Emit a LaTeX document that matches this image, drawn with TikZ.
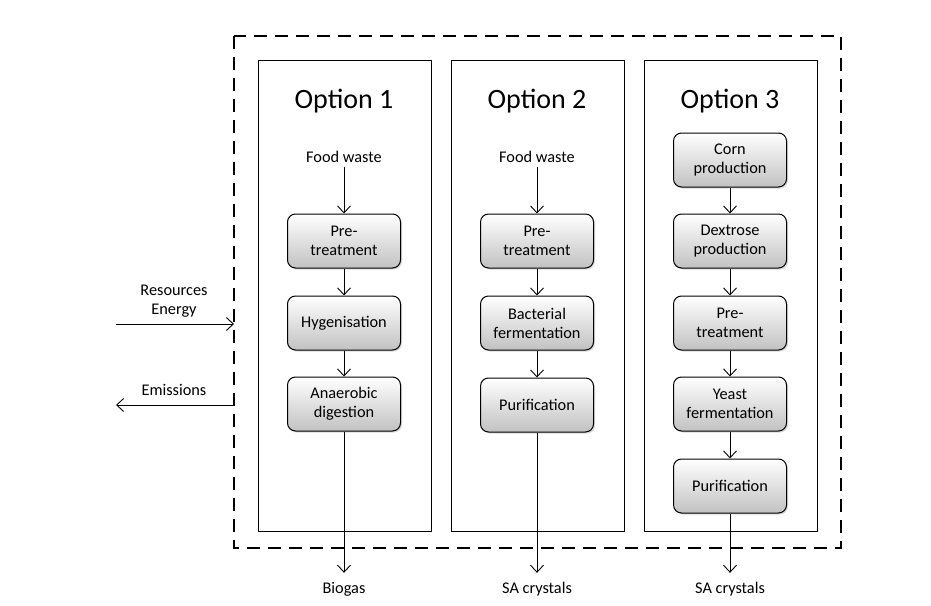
\documentclass[tikz,border=0pt]{standalone}
\usepackage{fontspec}
\setmainfont{Carlito}
\usetikzlibrary{arrows.meta,shadows}

\tikzset{
  stage/.style={draw, line width=1pt, rounded corners=8pt, minimum width=113pt, minimum height=54pt,
    inner sep=2pt, align=center, top color=white, bottom color=black!24,
    drop shadow={opacity=0.3, shadow xshift=1.5pt, shadow yshift=-1.5pt},
    font=\fontsize{16.3}{19}\selectfont},
  txt/.style={align=center, inner sep=4pt, font=\fontsize{16.3}{18.5}\selectfont},
  title/.style={font=\fontsize{28}{32}\selectfont},
  panel/.style={draw, line width=1pt},
  flow/.style={-{Straight Barb[length=7pt,width=13pt]}, line width=0.9pt}
}

\begin{document}
\begin{tikzpicture}[x=1pt, y=-1pt]
  \useasboundingbox (0,0) rectangle (931,605);

  % system boundary
  \draw[line width=2.8pt, dash pattern=on 13pt off 8pt] (234,36) rectangle (841,548);
  \coordinate (inR) at (116,324);
  \coordinate (inL) at (234,324);
  \coordinate (emL) at (234,405);
  \coordinate (emR) at (116,405);

  % panels
  \draw[panel] (258,60) rectangle (431,531); % option 1
  \draw[panel] (451,60) rectangle (624,531); % option 2
  \draw[panel] (644,60) rectangle (817,531); % option 3

  \node[title] (t1) at (344,101) {Option 1};
  \node[title] (t2) at (537,101) {Option 2};
  \node[title] (t3) at (730,101) {Option 3};

  % option 1
  \node[txt] (fw1) at (344,157) {Food waste};
  \node[stage] (pre1) at (344,241) {Pre-\\treatment};
  \node[stage] (hyg1) at (344,323) {Hygenisation};
  \node[stage] (ad1) at (344,404) {Anaerobic\\digestion};
  \node[txt] (out1) at (344,589) {Biogas};

  % option 2
  \node[txt] (fw2) at (537,157) {Food waste};
  \node[stage] (pre2) at (537,241) {Pre-\\treatment};
  \node[stage] (bf2) at (537,323) {Bacterial\\fermentation};
  \node[stage] (pur2) at (537,405) {Purification};
  \node[txt] (out2) at (537,589) {SA crystals};

  % option 3
  \node[stage] (corn3) at (730,160) {Corn\\production};
  \node[stage] (dex3) at (730,241) {Dextrose\\production};
  \node[stage] (pre3) at (730,323) {Pre-\\treatment};
  \node[stage] (yf3) at (730,404) {Yeast\\fermentation};
  \node[stage] (pur3) at (730,486) {Purification};
  \node[txt] (out3) at (730,589) {SA crystals};

  % flows
  \draw[flow] (fw1) -- (pre1);
  \draw[flow] (pre1) -- (hyg1);
  \draw[flow] (hyg1) -- (ad1);
  \draw[flow, shorten >=5pt] (ad1) -- (out1);

  \draw[flow] (fw2) -- (pre2);
  \draw[flow] (pre2) -- (bf2);
  \draw[flow] (bf2) -- (pur2);
  \draw[flow, shorten >=5pt] (pur2) -- (out2);

  \draw[flow] (corn3) -- (dex3);
  \draw[flow] (dex3) -- (pre3);
  \draw[flow] (pre3) -- (yf3);
  \draw[flow] (yf3) -- (pur3);
  \draw[flow, shorten >=5pt] (pur3) -- (out3);

  % exchanges
  \node[txt] (res) at (174,301) {Resources\\Energy};
  \node[txt] (em) at (174,390) {Emissions};
  \draw[flow] (inR) -- (inL);
  \draw[flow] (emL) -- (emR);
\end{tikzpicture}
\end{document}
